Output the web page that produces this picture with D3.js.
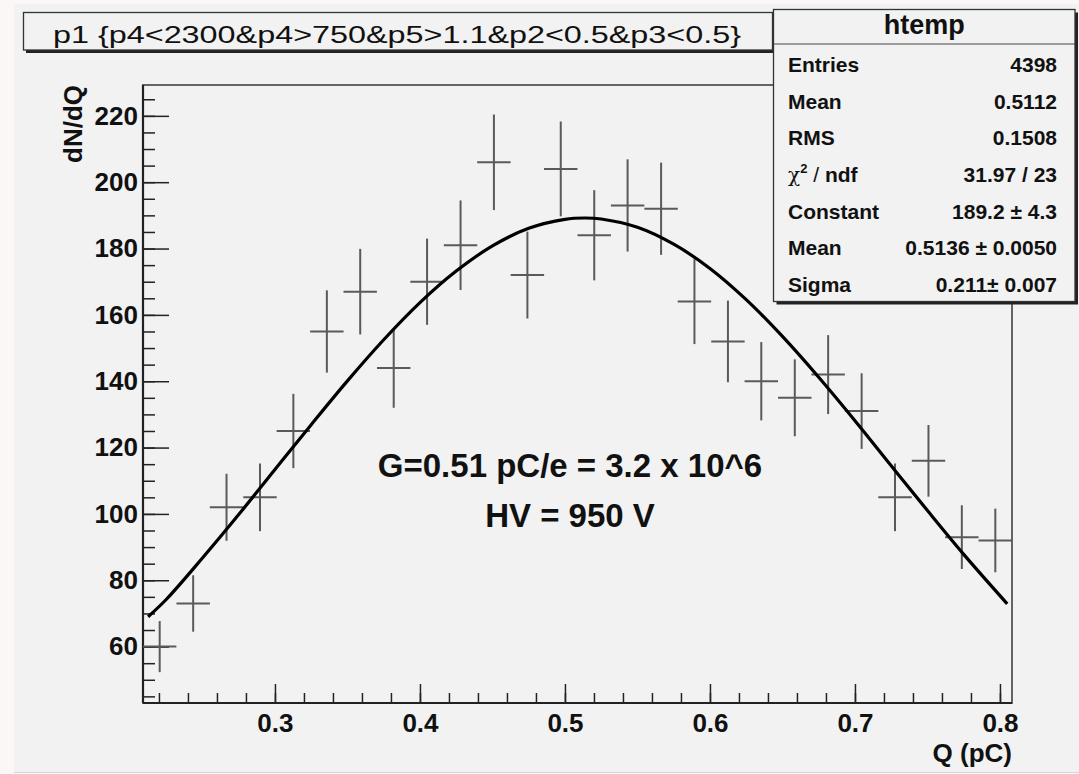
<!DOCTYPE html>
<html>
<head>
<meta charset="utf-8">
<script src="https://cdn.jsdelivr.net/npm/d3@7"></script>
<style>
  body { margin: 0; background: #fcf7f7; }
  svg { display: block; }
  text { font-family: "Liberation Sans", Arial, Helvetica, sans-serif; fill: #111; }
</style>
</head>
<body>
<div id="chart"></div>
<script>
// histogram htemp: bin centers (pC) and counts
const binCenters = [0.2205, 0.2436, 0.2666, 0.2897, 0.3127, 0.3358, 0.3588, 0.3819, 0.4049, 0.4280,
                    0.4510, 0.4741, 0.4971, 0.5202, 0.5432, 0.5663, 0.5893, 0.6124, 0.6354, 0.6585,
                    0.6815, 0.7046, 0.7276, 0.7507, 0.7737, 0.7968];
const counts = [60, 73, 102, 105, 125, 155, 167, 144, 170, 181,
                206, 172, 204, 184, 193, 192, 164, 152, 140, 135,
                142, 131, 105, 116, 93, 92];
const countErrors = [7.7, 8.5, 10.1, 10.2, 11.2, 12.4, 12.9, 12.0, 13.0, 13.5,
                     14.4, 13.1, 14.3, 13.6, 13.9, 13.9, 12.8, 12.3, 11.8, 11.6,
                     11.9, 11.4, 10.2, 10.8, 9.6, 9.6];
const binWidth = 0.02305;

// gaussian fit curve
const fitQ = [0.2125, 0.225, 0.25, 0.275, 0.30, 0.325, 0.35, 0.375, 0.40, 0.425, 0.45, 0.475, 0.50,
              0.5136, 0.525, 0.55, 0.575, 0.60, 0.625, 0.65, 0.675, 0.70, 0.725, 0.75, 0.775, 0.805];
const fitVal = [69.0, 74.2, 86.7, 99.8, 113.4, 126.9, 140.1, 152.5, 163.7, 173.2, 180.8, 186.1, 188.8,
                189.2, 188.9, 186.4, 181.3, 174.0, 164.6, 153.5, 141.2, 128.1, 114.5, 101.0, 87.8, 72.9];

const xTicks = [0.3, 0.4, 0.5, 0.6, 0.7, 0.8];
const xMinorTicks = d3.range(0.22, 0.81, 0.02);
const yTicks = [60, 80, 100, 120, 140, 160, 180, 200, 220];
const yMinorTicks = d3.range(45, 229, 5);

const titleText = "p1 {p4<2300&p4>750&p5>1.1&p2<0.5&p3<0.5}";
const statsLabels = ["Entries", "Mean", "RMS", "chi2", "Constant", "Mean", "Sigma"];
const statsValues = ["4398", "0.5112", "0.1508", "31.97 / 23", "189.2 \u00b1 4.3", "0.5136 \u00b1 0.0050", "0.211\u00b1 0.007"];
const noteLines = ["G=0.51 pC/e = 3.2 x 10^6", "HV = 950 V"];

const W = 1079, H = 774;
const frame = {left: 143, right: 1012, top: 85, bottom: 703};

const svg = d3.select("#chart").append("svg")
    .attr("width", W).attr("height", H);

// canvas
svg.append("rect").attr("x", 14).attr("y", 4).attr("width", W - 14).attr("height", 768)
    .attr("fill", "#f2f2f2");
svg.append("line").attr("x1", 14).attr("x2", W).attr("y1", 772.5).attr("y2", 772.5)
    .attr("stroke", "#d6d6d6");

const x = d3.scaleLinear().domain([0.209, 0.8083]).range([frame.left, frame.right]);
const y = d3.scaleLinear().domain([43, 229.3]).range([frame.bottom, frame.top]);

// frame
svg.append("rect")
    .attr("x", frame.left).attr("y", frame.top)
    .attr("width", frame.right - frame.left).attr("height", frame.bottom - frame.top)
    .attr("fill", "none").attr("stroke", "#555").attr("stroke-width", 1.8);

// axes, ticks pointing inward like ROOT
function styleAxis(g) {
    g.select(".domain").remove();
    g.selectAll(".tick line").attr("stroke", "#222").attr("stroke-width", 1.5);
}

svg.append("g")
    .attr("transform", "translate(0," + frame.bottom + ")")
    .call(d3.axisBottom(x).tickValues(xMinorTicks).tickSize(-10).tickFormat(""))
    .call(styleAxis);

svg.append("g")
    .attr("transform", "translate(0," + frame.bottom + ")")
    .call(d3.axisBottom(x).tickValues(xTicks).tickSize(-19).tickPadding(11).tickFormat(d3.format(".1f")))
    .call(styleAxis)
    .call(g => g.selectAll("text")
        .attr("font-size", 26).attr("font-weight", "bold")
        .attr("font-family", "Liberation Sans, Arial, sans-serif").attr("fill", "#111"));

svg.append("g")
    .attr("transform", "translate(" + frame.left + ",0)")
    .call(d3.axisLeft(y).tickValues(yMinorTicks).tickSize(-12).tickFormat(""))
    .call(styleAxis);

svg.append("g")
    .attr("transform", "translate(" + frame.left + ",0)")
    .call(d3.axisLeft(y).tickValues(yTicks).tickSize(-26).tickPadding(5))
    .call(styleAxis)
    .call(g => g.selectAll("text")
        .attr("font-size", 26).attr("font-weight", "bold")
        .attr("font-family", "Liberation Sans, Arial, sans-serif").attr("fill", "#111"));

// axis lines
svg.append("line").attr("x1", frame.left).attr("x2", frame.right)
    .attr("y1", frame.bottom).attr("y2", frame.bottom)
    .attr("stroke", "#222").attr("stroke-width", 2.2);
svg.append("line").attr("x1", frame.left).attr("x2", frame.left)
    .attr("y1", frame.top).attr("y2", frame.bottom)
    .attr("stroke", "#222").attr("stroke-width", 2.2);

// axis titles
svg.append("text")
    .attr("x", frame.right).attr("y", 762)
    .attr("text-anchor", "end").attr("font-size", 26).attr("font-weight", "bold")
    .text("Q (pC)");
svg.append("text")
    .attr("transform", "translate(82," + frame.top + ") rotate(-90)")
    .attr("text-anchor", "end").attr("font-size", 26).attr("font-weight", "bold")
    .text("dN/dQ");

// data points with error crosses
const points = binCenters.map((q, i) => ({q: q, n: counts[i], e: countErrors[i]}));
const pts = svg.append("g").attr("stroke", "#5a5a5a").attr("stroke-width", 2);
pts.selectAll("line.h").data(points).enter().append("line")
    .attr("class", "h")
    .attr("x1", d => x(d.q - binWidth / 2)).attr("x2", d => x(d.q + binWidth / 2))
    .attr("y1", d => y(d.n)).attr("y2", d => y(d.n));
pts.selectAll("line.v").data(points).enter().append("line")
    .attr("class", "v")
    .attr("x1", d => x(d.q)).attr("x2", d => x(d.q))
    .attr("y1", d => y(d.n - d.e)).attr("y2", d => y(d.n + d.e));

// fit
const fitData = fitQ.map((q, i) => ({q: q, v: fitVal[i]}));
svg.append("path")
    .datum(fitData)
    .attr("fill", "none").attr("stroke", "#000").attr("stroke-width", 3.2)
    .attr("d", d3.line().x(d => x(d.q)).y(d => y(d.v)).curve(d3.curveCatmullRom.alpha(0.5)));

// annotation
svg.selectAll("text.note").data(noteLines).enter().append("text")
    .attr("class", "note")
    .attr("x", 570).attr("y", (d, i) => 477 + i * 50)
    .attr("text-anchor", "middle").attr("font-size", 33).attr("font-weight", "bold")
    .text(d => d);

// title box
svg.append("rect").attr("x", 26).attr("y", 15).attr("width", 750).attr("height", 38)
    .attr("fill", "#222");
svg.append("rect").attr("x", 23.5).attr("y", 12.5).attr("width", 749).attr("height", 37.5)
    .attr("fill", "#f2f2f2").attr("stroke", "#333").attr("stroke-width", 1.3);
svg.append("text")
    .attr("x", 53).attr("y", 42.5)
    .attr("font-size", 24)
    .attr("textLength", 688).attr("lengthAdjust", "spacingAndGlyphs")
    .text(titleText);

// stats box
const sb = {x: 773.5, y: 9.5, w: 301.5, h: 292};
svg.append("rect").attr("x", sb.x + 3).attr("y", sb.y + 3).attr("width", sb.w).attr("height", sb.h)
    .attr("fill", "#222");
svg.append("rect").attr("x", sb.x).attr("y", sb.y).attr("width", sb.w).attr("height", sb.h)
    .attr("fill", "#f2f2f2").attr("stroke", "#333").attr("stroke-width", 1.3);
svg.append("line").attr("x1", sb.x).attr("x2", sb.x + sb.w).attr("y1", 44).attr("y2", 44)
    .attr("stroke", "#444").attr("stroke-width", 1.2);
svg.append("text")
    .attr("x", sb.x + sb.w / 2).attr("y", 34)
    .attr("text-anchor", "middle").attr("font-size", 27).attr("font-weight", "bold")
    .text("htemp");

statsLabels.forEach((lab, i) => {
    const yy = 72 + i * 36.67;
    const t = svg.append("text").attr("x", 788).attr("y", yy)
        .attr("font-size", 21).attr("font-weight", "bold");
    if (lab === "chi2") {
        t.append("tspan").attr("font-weight", "normal").attr("font-family", "DejaVu Serif, serif")
            .attr("font-size", 20).text("\u03c7");
        t.append("tspan").attr("font-size", 13).attr("dy", -9).text("2");
        t.append("tspan").attr("dy", 9).attr("font-weight", "normal").text(" / ");
        t.append("tspan").text("ndf");
    } else {
        t.text(lab);
    }
    svg.append("text").attr("x", 1057).attr("y", yy)
        .attr("text-anchor", "end").attr("font-size", 21).attr("font-weight", "bold")
        .text(statsValues[i]);
});
</script>
</body>
</html>
